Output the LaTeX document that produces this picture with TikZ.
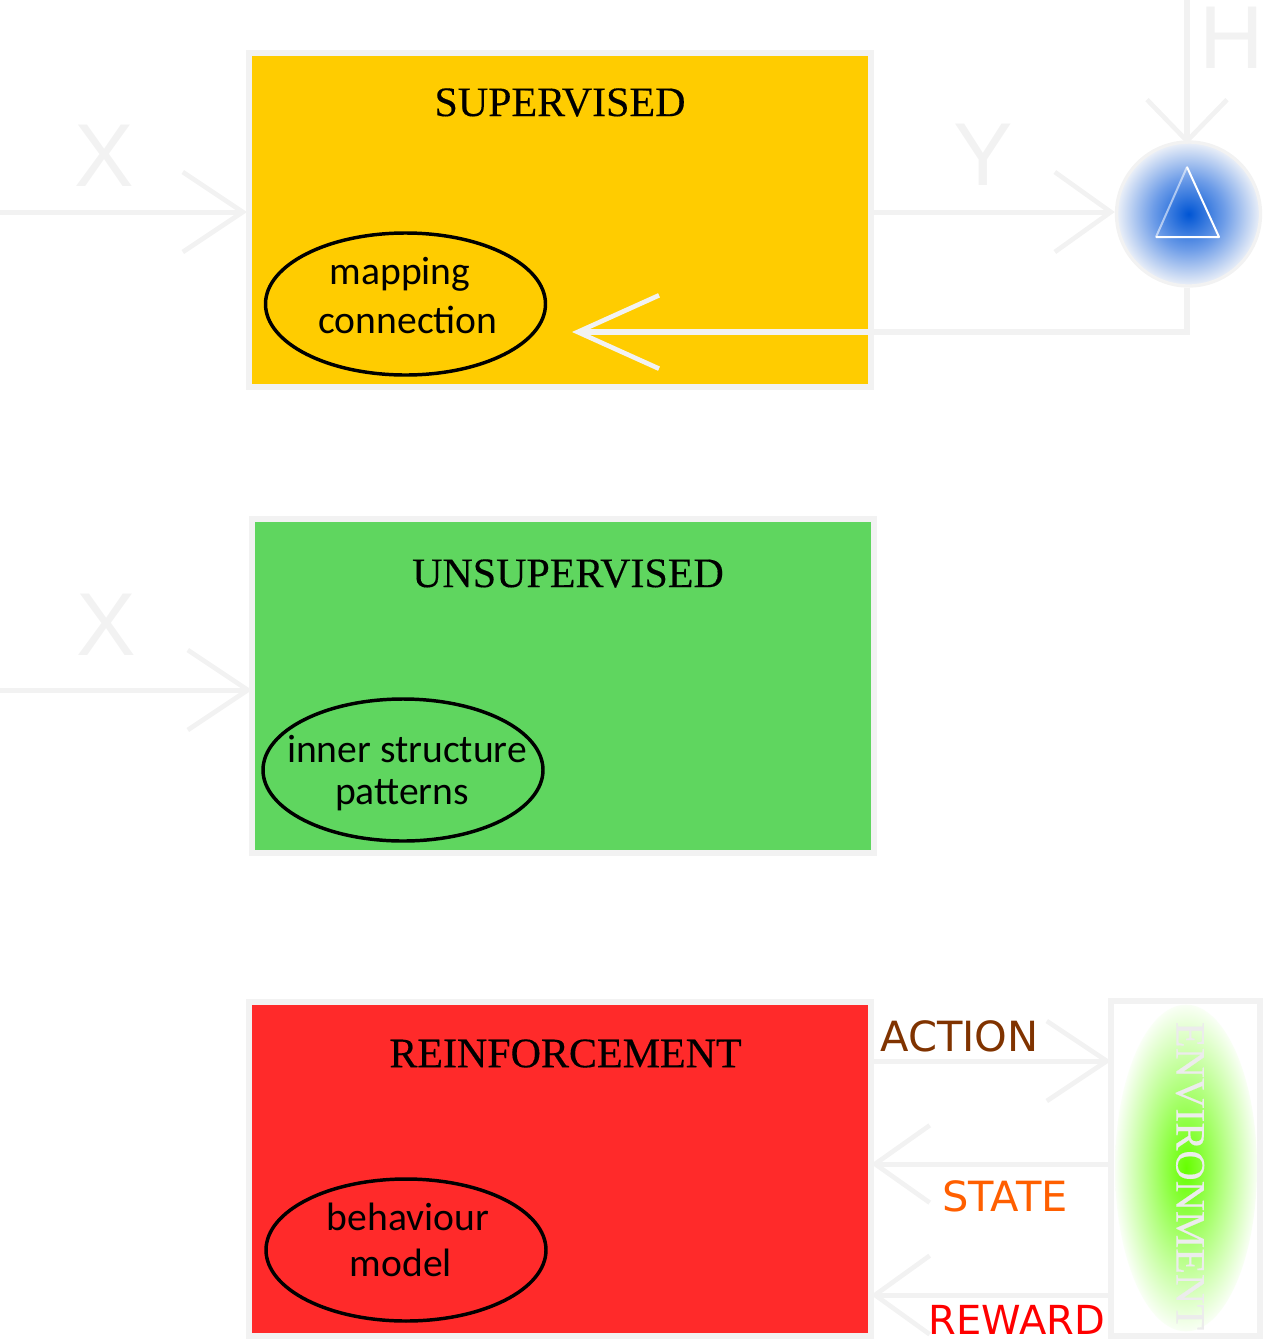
\documentclass[tikz,border=0pt]{standalone}
\usepackage{fontspec}
\setmainfont{Liberation Serif}
\newfontfamily\titlefont[FakeBold=0.3]{Liberation Serif}
\newfontfamily\labelfont{DejaVu Sans}
\newfontfamily\ovalfont{Carlito}
\newfontfamily\bigfont{Liberation Sans}
\usetikzlibrary{arrows.meta,shapes.geometric}
\definecolor{pale}{HTML}{F2F2F2}
\definecolor{paletext}{HTML}{ECECEC}
\definecolor{gold}{HTML}{FFCC00}
\definecolor{leaf}{HTML}{5FD65F}
\definecolor{scarlet}{HTML}{FF2A2A}
\definecolor{brownish}{HTML}{803300}
\definecolor{orangish}{HTML}{FF5F00}
\definecolor{bluecore}{HTML}{0055D4}
\definecolor{bluemid}{HTML}{6E9DE8}
\definecolor{blueedge}{HTML}{EDF1F8}
\definecolor{greencore}{HTML}{66FF00}
\definecolor{greenmid}{HTML}{B3FF80}
\pgfdeclareradialshading{blueglow}{\pgfpoint{0bp}{0bp}}{color(0bp)=(bluecore);color(12.5bp)=(bluemid);color(25bp)=(blueedge);color(50bp)=(blueedge)}
\pgfdeclareradialshading{greenglow}{\pgfpoint{0bp}{0bp}}{color(0bp)=(greencore);color(13bp)=(greenmid);color(26bp)=(white);color(50bp)=(white)}
\tikzset{
  box/.style={draw=pale,line width=4.5pt,inner sep=0pt,outer sep=0pt,anchor=north west},
  oval/.style={ellipse,draw=black,line width=2.6pt,minimum width=210pt,minimum height=106.5pt,inner sep=0pt},
  title/.style={font=\titlefont\fontsize{31.5}{31.5}\selectfont,text=black,inner sep=0pt},
  ovaltext/.style={font=\ovalfont\fontsize{29.7}{29.7}\selectfont,text=black,inner sep=0pt},
  ghost/.style={font=\bigfont\fontsize{67}{67}\selectfont,text=pale,inner sep=0pt},
  side/.style={font=\labelfont\fontsize{31.2}{31.2}\selectfont,inner sep=0pt},
  link/.style={draw=pale,line width=3.75pt},
  barb/.style={-{Straight Barb[length=45pt,width=60pt,line width=3.5pt]}},
}
\begin{document}
\begin{tikzpicture}[x=0.75pt,y=-0.75pt]
\useasboundingbox (0,0) rectangle (1263,1339);
% boxes
\node[box,fill=gold,minimum width=466.5pt,minimum height=250.5pt] (sup) at (249,53) {};
\node[box,fill=leaf,minimum width=466.5pt,minimum height=250.5pt] (uns) at (252,519) {};
\node[box,fill=scarlet,minimum width=466.5pt,minimum height=250.5pt] (rei) at (249,1002) {};
\node[box,fill=white,minimum width=111.75pt,minimum height=251.25pt] (env) at (1111,1001) {};
% glows
\node[ellipse,draw=none,minimum width=106.5pt,minimum height=245pt,inner sep=0pt,shading=greenglow] (glow) at (1186,1168) {};
\node[circle,draw=pale,line width=2.5pt,minimum size=108pt,inner sep=0pt,shading=blueglow] (sum) at (1188.5,214) {};
% titles
\node[title] (t1) at (560,102.5) {SUPERVISED};
\node[title] (t2) at (568,573.5) {UNSUPERVISED};
\node[title] (t3) at (565.5,1053.5) {REINFORCEMENT};
% ovals
\node[oval] (o1) at (405.5,304) {};
\node[oval] (o2) at (403,770) {};
\node[oval] (o3) at (406,1250) {};
\node[ovaltext] (o1a) at (400,274) {mapping};
\node[ovaltext] (o1b) at (408,320) {connection};
\node[ovaltext] (o2a) at (407,749) {inner structure};
\node[ovaltext] (o2b) at (402,795) {patterns};
\node[ovaltext] (o3a) at (408,1217) {behaviour};
\node[ovaltext] (o3b) at (401,1263) {model};
% triangle
\coordinate (ta) at (1187,167);
\coordinate (tb) at (1219,237);
\coordinate (tc) at (1156,237);
\draw[white,line width=1.5pt,line join=round] (ta) -- (tb) -- (tc);
\draw[white,opacity=.55,line width=1.5pt,line cap=round] (tc) -- (ta);
% free ends
\coordinate (x1) at (0,212);
\coordinate (x2) at (0,690);
\coordinate (h) at (1187,0);
\coordinate (yy) at (874,212);
\coordinate (corner) at (1187,332);
\coordinate (back) at (572,332);
% connectors
\draw[link,barb] (x1) -- ([xshift=-1.5pt]x1 -| sup.west);
\draw[link,barb] (x2) -- (x2 -| uns.west);
\draw[link,line width=4.2pt,-{Straight Barb[length=31pt,width=60pt,line width=3.5pt]}] (h) -- ([yshift=-3pt]h |- sum.north);
\draw[link,-{Straight Barb[length=42pt,width=60pt,line width=3.5pt]}] (yy) -- (yy -| sum.west);
\draw[link,line width=4.2pt,-{Straight Barb[length=61pt,width=55pt,line width=3.5pt]}] (sum.south -| corner) -- (corner) -- (back);
\coordinate (a1) at (874,1061);
\coordinate (s1) at (1109,1164);
\coordinate (r1) at (1109,1295);
\draw[link,barb] (a1) -- (a1 -| env.west);
\draw[link,-{Straight Barb[length=41pt,width=58pt,line width=3.5pt]}] (s1) -- (s1 -| rei.east);
\draw[link,-{Straight Barb[length=41pt,width=59pt,line width=3.5pt]}] (r1) -- (r1 -| rei.east);
% ghost labels
\node[ghost] (lx1) at (104,156) {X};
\node[ghost] (lx2) at (106,625) {X};
\node[ghost] (ly) at (983,155) {Y};
\node[ghost] (lh) at (1232,38) {H};
% side labels
\node[side,text=brownish] (la) at (959.5,1036) {ACTION};
\node[side,text=orangish] (ls) at (1005,1196) {STATE};
\node[side,text=red,font=\labelfont\fontsize{30}{30}\selectfont,anchor=base] (lr) at (1017,1334) {REWARD};
\node[title,text=paletext,rotate=-90] (le) at (1190,1176) {ENVIRONMENT};
\end{tikzpicture}
\end{document}
